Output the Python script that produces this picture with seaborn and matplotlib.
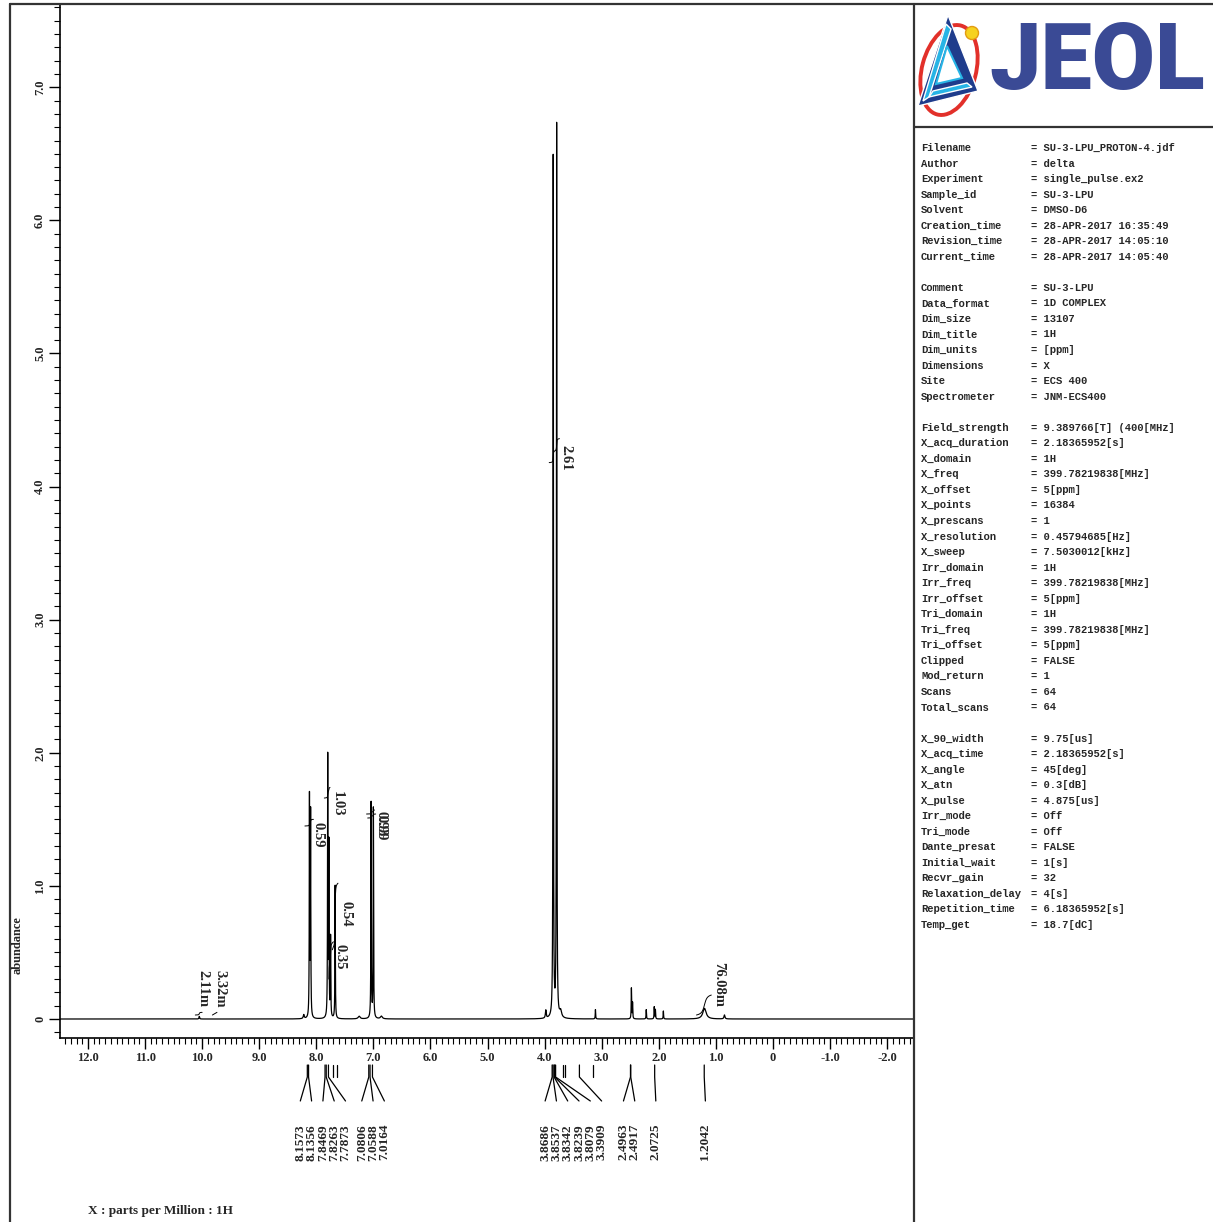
import numpy as np
import pandas as pd
import seaborn as sns
import matplotlib.pyplot as plt
from matplotlib.lines import Line2D
from matplotlib.patches import Polygon, Circle, Ellipse
from matplotlib.transforms import blended_transform_factory
from matplotlib.ticker import MultipleLocator, FuncFormatter

# spectrum lines: centre (ppm), height, half width (ppm)
line_ppm = [10.05, 8.22, 8.12, 8.10, 7.80, 7.78, 7.75, 7.67, 7.25, 7.04, 7.00, 6.86,
            3.98, 3.85, 3.79, 3.72, 3.11, 2.48, 2.46, 2.22, 2.08, 2.06, 1.92, 1.20, 0.85]
line_height = [0.02, 0.03, 1.65, 1.53, 1.95, 1.28, 0.60, 1.00, 0.02, 1.62, 1.58, 0.02,
               0.06, 6.47, 6.72, 0.05, 0.07, 0.23, 0.12, 0.07, 0.09, 0.07, 0.06, 0.08, 0.03]
line_hw = [0.006, 0.01, 0.004, 0.004, 0.004, 0.004, 0.004, 0.004, 0.02, 0.004, 0.004, 0.02,
           0.008, 0.004, 0.004, 0.02, 0.004, 0.004, 0.004, 0.004, 0.004, 0.004, 0.004, 0.035, 0.01]

# peak picking labels
pick_ppm = [8.1573, 8.1356, 7.8469, 7.8263, 7.7873,
            7.0806, 7.0588, 7.0164,
            3.8686, 3.8537, 3.8342, 3.8239, 3.8079, 3.3909,
            2.4963, 2.4917, 2.0725, 1.2042]
pick_group = [0, 0, 0, 0, 0, 1, 1, 1, 2, 2, 2, 2, 2, 2, 3, 3, 4, 5]
mark_ppm = [7.71, 7.64, 3.67, 3.64, 3.15]

# integrals
int_text = ["2.11m", "3.32m", "0.59", "1.03", "0.35", "0.54", "0.93", "0.99", "2.61", "76.08m"]
int_start = [10.12, 9.82, 8.20, 7.86, 7.78, 7.72, 7.12, 7.10, 3.92, 1.34]
int_end = [10.00, 9.74, 8.05, 7.76, 7.70, 7.62, 6.98, 6.96, 3.74, 1.08]
int_low = [0.03, 0.03, 1.45, 1.66, 0.30, 0.52, 1.54, 1.51, 4.18, 0.03]
int_high = [0.05, 0.05, 1.50, 1.74, 0.58, 1.02, 1.57, 1.54, 4.36, 0.18]
int_label_ppm = [9.99, 9.69, 7.97, 7.64, 7.59, 7.48, 6.87, 6.86, 3.63, 0.96]
int_label_top = [0.37, 0.37, 1.48, 1.71, 0.56, 0.89, 1.56, 1.53, 4.31, 0.43]

param_names = ["Filename", "Author", "Experiment", "Sample_id", "Solvent", "Creation_time",
               "Revision_time", "Current_time", "",
               "Comment", "Data_format", "Dim_size", "Dim_title", "Dim_units", "Dimensions",
               "Site", "Spectrometer", "",
               "Field_strength", "X_acq_duration", "X_domain", "X_freq", "X_offset", "X_points",
               "X_prescans", "X_resolution", "X_sweep", "Irr_domain", "Irr_freq", "Irr_offset",
               "Tri_domain", "Tri_freq", "Tri_offset", "Clipped", "Mod_return", "Scans",
               "Total_scans", "",
               "X_90_width", "X_acq_time", "X_angle", "X_atn", "X_pulse", "Irr_mode", "Tri_mode",
               "Dante_presat", "Initial_wait", "Recvr_gain", "Relaxation_delay",
               "Repetition_time", "Temp_get"]
param_values = ["SU-3-LPU_PROTON-4.jdf", "delta", "single_pulse.ex2", "SU-3-LPU", "DMSO-D6",
                "28-APR-2017 16:35:49", "28-APR-2017 14:05:10", "28-APR-2017 14:05:40", "",
                "SU-3-LPU", "1D COMPLEX", "13107", "1H", "[ppm]", "X", "ECS 400", "JNM-ECS400", "",
                "9.389766[T] (400[MHz]", "2.18365952[s]", "1H", "399.78219838[MHz]", "5[ppm]",
                "16384", "1", "0.45794685[Hz]", "7.5030012[kHz]", "1H", "399.78219838[MHz]",
                "5[ppm]", "1H", "399.78219838[MHz]", "5[ppm]", "FALSE", "1", "64", "64", "",
                "9.75[us]", "2.18365952[s]", "45[deg]", "0.3[dB]", "4.875[us]", "Off", "Off",
                "FALSE", "1[s]", "32", "4[s]", "6.18365952[s]", "18.7[dC]"]

sns.set_style("ticks")
plt.rcParams["font.family"] = ["Liberation Serif", "DejaVu Serif"]

W, H = 1213, 1222
fig = plt.figure(figsize=(W / 100, H / 100), dpi=100)


def fx(px):
    return px / W


def fy(py):
    return 1 - py / H


ppm = np.linspace(12.49, -2.46, 30000)
spec = np.zeros_like(ppm)
for c, h, w in zip(line_ppm, line_height, line_hw):
    spec += h * w ** 2 / ((ppm - c) ** 2 + w ** 2)
df = pd.DataFrame({"ppm": ppm, "abundance": spec})

ax = fig.add_axes([fx(60), fy(1038), fx(913) - fx(60), fy(5) - fy(1038)])
sns.lineplot(data=df, x="ppm", y="abundance", color="black", linewidth=0.9,
             estimator=None, sort=False, ax=ax)
ax.set_xlim(12.49, -2.453)
ax.set_ylim(-0.1427, 7.618)
ax.set_xlabel("")
ax.set_ylabel("")
for s in ["top", "right"]:
    ax.spines[s].set_visible(False)
for s in ["left", "bottom"]:
    ax.spines[s].set_linewidth(1.2)
    ax.spines[s].set_color("black")

fmt = FuncFormatter(lambda v, _: "0" if abs(v) < 1e-9 else f"{v:.1f}")
ax.xaxis.set_major_locator(MultipleLocator(1))
ax.xaxis.set_minor_locator(MultipleLocator(0.1))
ax.yaxis.set_major_locator(MultipleLocator(1))
ax.yaxis.set_minor_locator(MultipleLocator(0.1))
ax.xaxis.set_major_formatter(fmt)
ax.yaxis.set_major_formatter(fmt)
ax.tick_params(axis="both", which="major", length=8, width=1, direction="out",
               labelsize=9, pad=2, color="black")
ax.tick_params(axis="both", which="minor", length=4, width=0.8, direction="out", color="black")
ax.tick_params(axis="y", labelrotation=90)
for t in ax.get_xticklabels() + ax.get_yticklabels():
    t.set_fontweight("bold")
plt.setp(ax.get_yticklabels(), va="center")

# integral curves and values
for s0, s1, lo, hi in zip(int_start, int_end, int_low, int_high):
    m = (ppm <= s0) & (ppm >= s1)
    c = np.cumsum(spec[m])
    c = (c - c[0]) / (c[-1] - c[0])
    ax.plot(ppm[m], lo + (hi - lo) * c, color="black", lw=0.7)
for t, xp, yt in zip(int_text, int_label_ppm, int_label_top):
    ax.text(xp, yt, t, rotation=-90, ha="center", va="top", fontsize=10.5,
            fontweight="bold")

# peak picking leaders and labels below the axis
trans = blended_transform_factory(ax.transData, fig.transFigure)
spacing = 0.198
for g in sorted(set(pick_group)):
    vals = [p for p, k in zip(pick_ppm, pick_group) if k == g]
    for i, p in enumerate(vals):
        if len(vals) > 1:
            lab = vals[0] + 0.123 - i * spacing
        else:
            lab = p - 0.02
        ax.plot([p, p, lab], [fy(1065), fy(1077), fy(1101)], color="black", lw=0.9,
                transform=trans, clip_on=False)
        ax.text(lab, fy(1124), f"{p:.4f}", rotation=90, ha="center", va="top",
                fontsize=9.5, fontweight="bold", transform=trans)
for p in mark_ppm:
    ax.plot([p, p], [fy(1065), fy(1077)], color="black", lw=0.9, transform=trans,
            clip_on=False)

fig.text(fx(18), fy(945), "abundance", rotation=90, ha="center", va="center",
         fontsize=9, fontweight="bold")
fig.text(fx(88), fy(1211), "X : parts per Million : 1H", ha="left", va="center",
         fontsize=9.5, fontweight="bold")

# frame lines
for (x0, y0, x1, y1) in [(10, 4, 1213, 4), (10, 4, 10, 1222), (914, 4, 914, 1222),
                         (914, 127, 1213, 127)]:
    fig.add_artist(Line2D([fx(x0), fx(x1)], [fy(y0), fy(y1)], transform=fig.transFigure,
                          color="#333333", lw=1.6))

# logo
lax = fig.add_axes([fx(915), fy(126), fx(1213) - fx(915), fy(6) - fy(126)])
lax.set_xlim(915, 1213)
lax.set_ylim(126, 6)
lax.axis("off")
lax.add_patch(Ellipse((949, 70), 54, 92, angle=15, fill=False, ec="#e2302a", lw=2.8))
lax.add_patch(Polygon([(948, 15), (918, 106), (978, 91)], closed=True, fc="#1f3c8c"))
lax.add_patch(Polygon([(946, 24), (951, 29), (929, 97), (923, 101)], closed=True, fc="#27b4e6"))
lax.add_patch(Polygon([(929, 97), (972, 87), (967, 83), (933, 91)], closed=True, fc="#27b4e6"))
lax.add_patch(Polygon([(947, 46), (936, 84), (962, 78)], closed=True, fc="white",
                      ec="#27b4e6", lw=1.5))
lax.add_patch(Circle((972, 33), 6.5, fc="#f6d21f", ec="#e39b12", lw=1))
lax.text(1097, 64, "JEOL", ha="center", va="center", fontsize=66, fontweight="black",
         color="#3a4a95", family="Roboto")

# parameter list
for i, (n, v) in enumerate(zip(param_names, param_values)):
    if not n:
        continue
    y = fy(148 + i * 15.54)
    fig.text(fx(921), y, n, ha="left", va="center", fontsize=7.6, fontweight="bold",
             family="Liberation Mono")
    fig.text(fx(1031), y, "= " + v, ha="left", va="center", fontsize=7.6,
             fontweight="bold", family="Liberation Mono")

fig.savefig("out.png", dpi=100)
